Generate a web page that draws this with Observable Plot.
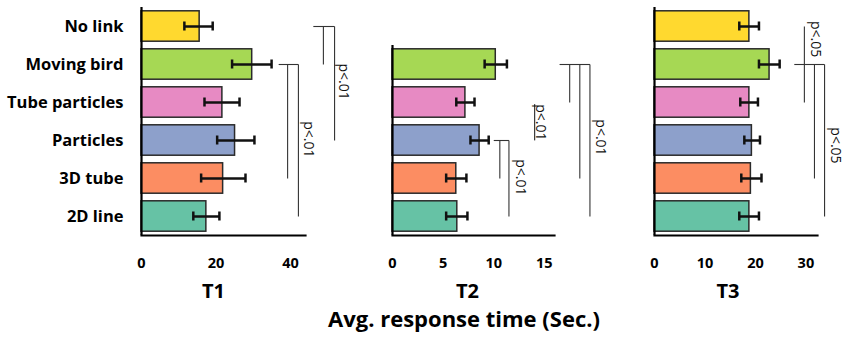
<!DOCTYPE html>
<html><head><meta charset="utf-8">
<script src="https://cdn.jsdelivr.net/npm/d3@7"></script>
<script src="https://cdn.jsdelivr.net/npm/@observablehq/plot@0.6"></script>
<style>
body{margin:0;background:#fff;}
#chart{position:relative;width:845px;height:348px;font-family:"Open Sans",sans-serif;background:#fff;overflow:hidden;}
.panel{position:absolute;top:0;}
#title{position:absolute;left:464px;top:307px;transform:translateX(-50%);font-weight:bold;font-size:22px;line-height:22px;white-space:nowrap;color:#000;}
</style></head><body>
<div id="chart"><div id="title">Avg. response time (Sec.)</div></div>
<script>
const categories = ["No link", "Moving bird", "Tube particles", "Particles", "3D tube", "2D line"];
const colors = ["#ffd92f", "#a6d854", "#e78ac3", "#8da0cb", "#fc8d62", "#66c2a5"];

// T1 (all six conditions)
const t1Cats = ["No link", "Moving bird", "Tube particles", "Particles", "3D tube", "2D line"];
const t1Mean = [15.6, 29.7, 21.7, 25.1, 21.9, 17.4];
const t1Low  = [11.5, 24.3, 16.9, 20.3, 16.0, 13.9];
const t1High = [19.1, 34.9, 26.3, 30.3, 27.9, 20.9];
const t1Ticks = [0, 20, 40];

// T2 (no "No link" condition)
const t2Cats = ["Moving bird", "Tube particles", "Particles", "3D tube", "2D line"];
const t2Mean = [10.2, 7.2, 8.6, 6.3, 6.4];
const t2Low  = [9.1, 6.3, 7.7, 5.3, 5.3];
const t2High = [11.3, 8.1, 9.5, 7.3, 7.4];
const t2Ticks = [0, 5, 10, 15];

// T3
const t3Cats = ["No link", "Moving bird", "Tube particles", "Particles", "3D tube", "2D line"];
const t3Mean = [18.8, 22.8, 18.8, 19.3, 19.1, 18.8];
const t3Low  = [16.8, 20.7, 17.0, 17.8, 17.2, 16.8];
const t3High = [20.7, 24.8, 20.5, 20.9, 21.2, 20.7];
const t3Ticks = [0, 10, 20, 30];

// significance brackets (x in data units of each panel)
const t1Spans = [{row: "No link", x1: 46.1, x2: 51.8}, {row: "Moving bird", x1: 36.8, x2: 42.1}];
const t1Legs = [
  {x: 48.8, from: "No link", to: "Moving bird"},
  {x: 51.8, from: "No link", to: "Particles"},
  {x: 39.2, from: "Moving bird", to: "3D tube"},
  {x: 42.1, from: "Moving bird", to: "2D line"}
];
const t1Notes = [
  {text: "p<.01", x: 54.2, row: "Moving bird", shift: 0.45, underline: false},
  {text: "p<.01", x: 44.8, row: "Particles", shift: -0.03, underline: false}
];

const t2Spans = [{row: "Moving bird", x1: 16.5, x2: 19.5}, {row: "Particles", x1: 10.0, x2: 11.5}];
const t2Legs = [
  {x: 17.5, from: "Moving bird", to: "Tube particles"},
  {x: 18.5, from: "Moving bird", to: "3D tube"},
  {x: 19.5, from: "Moving bird", to: "2D line"},
  {x: 10.6, from: "Particles", to: "3D tube"},
  {x: 11.5, from: "Particles", to: "2D line"}
];
const t2Notes = [
  {text: "p<.01", x: 20.5, row: "Particles", shift: -0.08, underline: false},
  {text: "p<.01", x: 14.6, row: "Tube particles", shift: 0.52, underline: true},
  {text: "p<.01", x: 12.6, row: "3D tube", shift: -0.03, underline: false}
];

const t3Spans = [{row: "Moving bird", x1: 27.7, x2: 33.7}];
const t3Legs = [
  {x: 29.7, from: "No link", to: "Tube particles"},
  {x: 31.7, from: "Moving bird", to: "3D tube"},
  {x: 33.7, from: "Moving bird", to: "2D line"}
];
const t3Notes = [
  {text: "p<.05", x: 31.9, row: "No link", shift: 0.33, underline: false},
  {text: "p<.05", x: 35.8, row: "Particles", shift: 0.13, underline: false}
];

const panels = [
  {title: "T1", cats: t1Cats, mean: t1Mean, low: t1Low, high: t1High, ticks: t1Ticks, domain: [0, 44],
   spans: t1Spans, legs: t1Legs, notes: t1Notes, left: 0, width: 360, mL: 141, mR: 55, labels: true, titleDx: -10},
  {title: "T2", cats: t2Cats, mean: t2Mean, low: t2Low, high: t2High, ticks: t2Ticks, domain: [0, 16],
   spans: t2Spans, legs: t2Legs, notes: t2Notes, left: 360, width: 260, mL: 32, mR: 66, labels: false, titleDx: -6},
  {title: "T3", cats: t3Cats, mean: t3Mean, low: t3Low, high: t3High, ticks: t3Ticks, domain: [0, 32.3],
   spans: t3Spans, legs: t3Legs, notes: t3Notes, left: 620, width: 225, mL: 34, mR: 28, labels: false, titleDx: -8}
];

const H = 310, mT = 7, mB = 75;
const step = (H - mT - mB) / (categories.length - 0.2 + 0.2);
const gap = step * 0.1;

const chart = document.getElementById("chart");
for (const p of panels) {
  const data = p.cats.map((c, i) => ({cat: c, v: p.mean[i], lo: p.low[i], hi: p.high[i], zero: 0}));
  const marks = [
    Plot.barX(data, {x: "v", y: "cat", fill: "cat", stroke: "#2a2a2a", strokeWidth: 1.5}),
    Plot.link(data, {x1: "lo", x2: "hi", y1: "cat", y2: "cat", stroke: "#111", strokeWidth: 2.5}),
    Plot.tickX(data, {x: "lo", y: "cat", stroke: "#111", strokeWidth: 2.5, insetTop: 10.7, insetBottom: 10.7}),
    Plot.tickX(data, {x: "hi", y: "cat", stroke: "#111", strokeWidth: 2.5, insetTop: 10.7, insetBottom: 10.7}),
    Plot.ruleX(data, {x: "zero", y1: "cat", y2: "cat", stroke: "#000", strokeWidth: 2.2, insetTop: -gap, insetBottom: -gap}),
    Plot.frame({anchor: "bottom", stroke: "#000", strokeWidth: 2.2}),
    Plot.link(p.spans, {x1: "x1", x2: "x2", y1: "row", y2: "row", stroke: "#333", strokeWidth: 1.1}),
    Plot.link(p.legs, {x1: "x", x2: "x", y1: "from", y2: "to", stroke: "#333", strokeWidth: 1.1}),
    ...p.notes.map(n => Plot.text([n], {x: "x", y: "row", text: "text", rotate: 90, dy: n.shift * step,
      fontSize: 14, fill: "#111"})),
    Plot.axisX({ticks: p.ticks, tickSize: 0, tickPadding: 22, label: null, fontSize: 14.5, fontWeight: "bold", tickFormat: d => String(d)}),
    Plot.text([p.title], {frameAnchor: "bottom", dy: 62, dx: p.titleDx, fontSize: 20, fontWeight: "bold", fill: "#000"})
  ];
  if (p.labels) marks.push(Plot.axisY({tickSize: 0, tickPadding: 18, label: null, fontSize: 16.5, fontWeight: "bold"}));
  const svg = Plot.plot({
    width: p.width, height: H,
    marginLeft: p.mL, marginRight: p.mR, marginTop: mT, marginBottom: mB,
    style: {fontFamily: "'Open Sans', sans-serif", color: "#000", background: "transparent"},
    x: {domain: p.domain},
    y: {type: "band", domain: categories, paddingInner: 0.2, paddingOuter: 0.1, round: false, axis: p.labels ? undefined : null},
    color: {domain: categories, range: colors},
    marks
  });
  svg.classList.add("panel");
  svg.style.left = p.left + "px";
  chart.appendChild(svg);
  // underline decoration for the underlined note (drawn along the rendered text)
  const noteGroups = svg.querySelectorAll("g[aria-label='text']");
  p.notes.forEach((n, i) => {
    if (!n.underline || !noteGroups[i]) return;
    noteGroups[i].querySelectorAll("text").forEach(function(t) {
      const b = t.getBBox();
      const line = document.createElementNS("http://www.w3.org/2000/svg", "line");
      const yy = b.y + b.height * 0.85;
      line.setAttribute("x1", b.x);
      line.setAttribute("x2", b.x + b.width);
      line.setAttribute("y1", yy);
      line.setAttribute("y2", yy);
      line.setAttribute("stroke", "#111");
      line.setAttribute("stroke-width", "1");
      const tr = t.getAttribute("transform");
      if (tr) line.setAttribute("transform", tr);
      t.parentNode.appendChild(line);
    });
  });
}
</script>
</body></html>
